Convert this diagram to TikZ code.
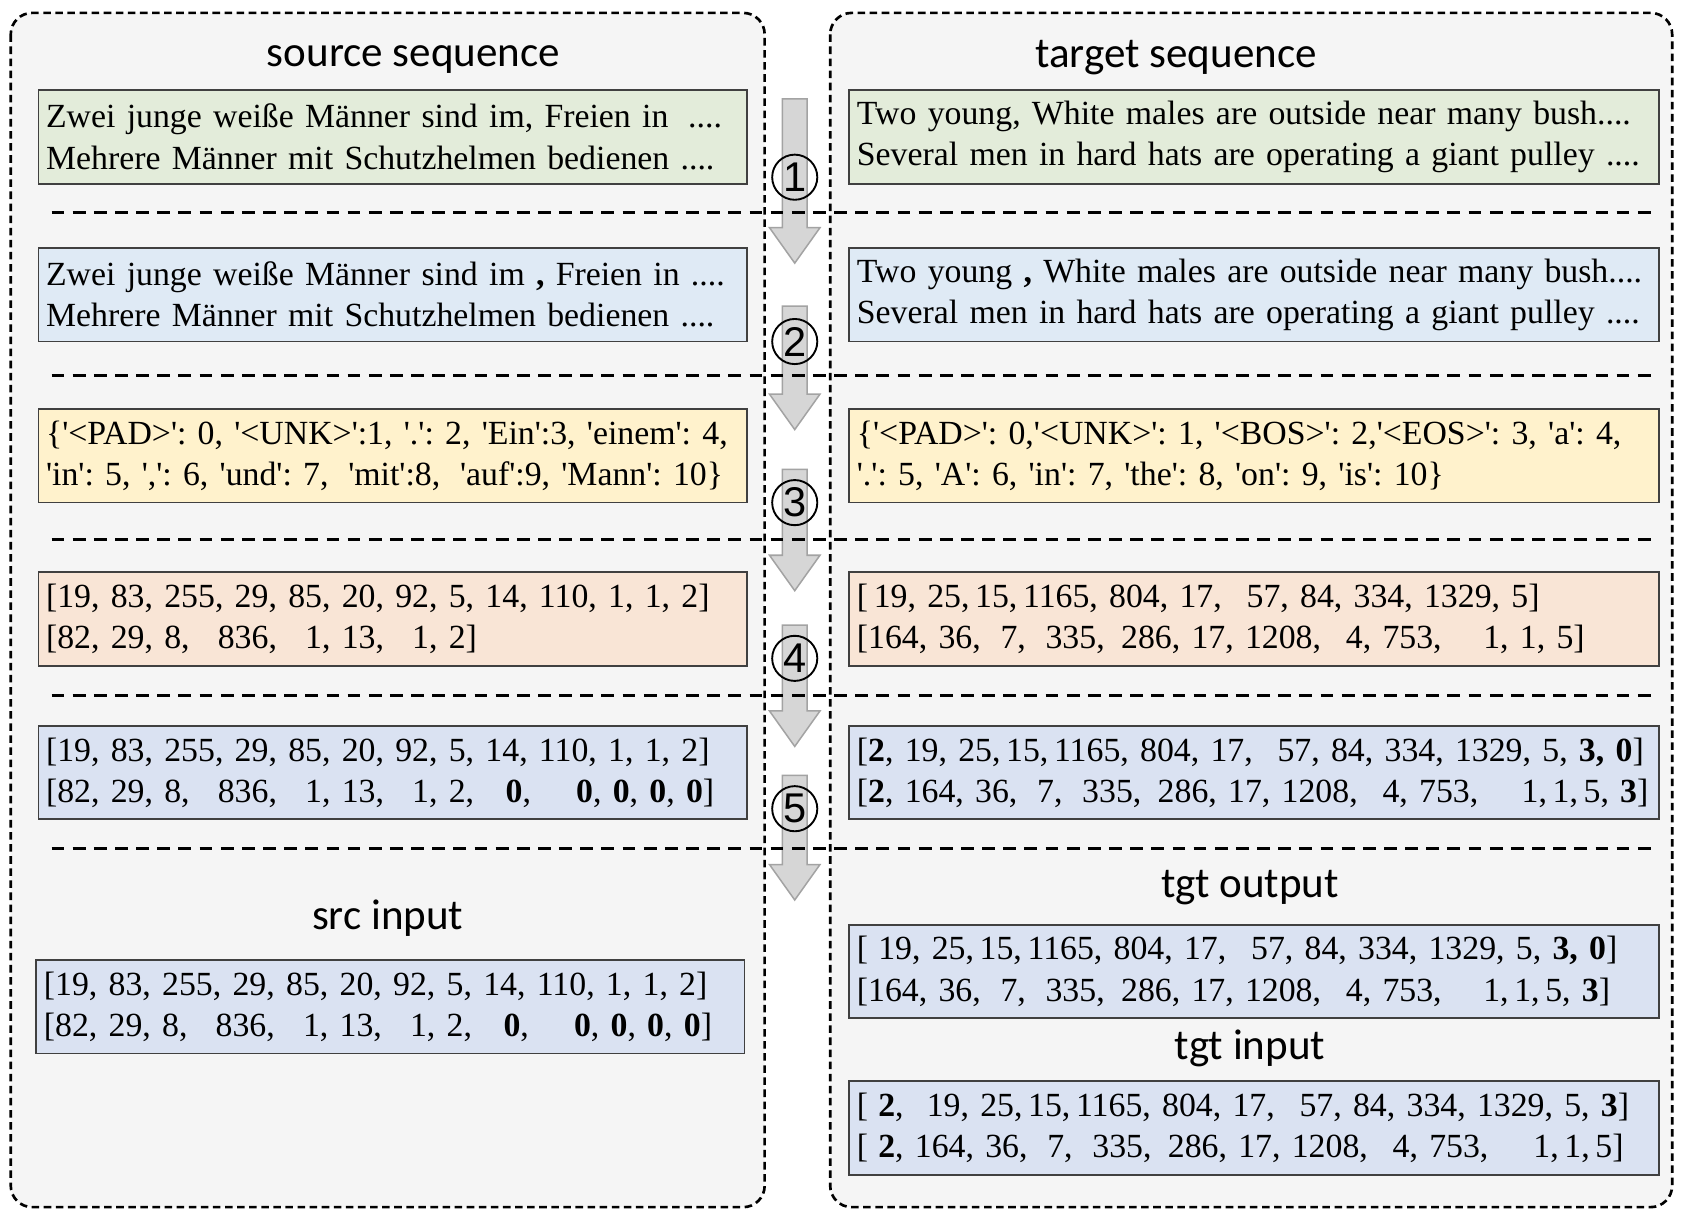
\documentclass[tikz,border=0pt]{standalone}
\usepackage{fontspec}
\setmainfont{Liberation Serif}[Ligatures=TeXOff]
\newfontfamily\titlefont{Carlito}
\newfontfamily\stepfont{Liberation Sans}
\frenchspacing
\newcommand{\tworows}[2]{\mbox{#1}\\\mbox{#2}}
\newcommand{\gapem}[1]{\hspace{#1em}}
\definecolor{cpanel}{HTML}{F5F5F5}
\definecolor{cgreen}{HTML}{E3ECDA}
\definecolor{cblue}{HTML}{DFEAF5}
\definecolor{cyellow}{HTML}{FFF2CC}
\definecolor{cpeach}{HTML}{F9E5D6}
\definecolor{clav}{HTML}{DAE2F2}
\definecolor{cedge}{HTML}{404040}
\definecolor{cgray}{HTML}{D6D6D6}
\definecolor{cgrayline}{HTML}{A3A3A3}

\begin{document}
\begin{tikzpicture}[x=0.01cm, y=-0.01cm,
  panel/.style={fill=cpanel, draw=black, line width=0.7pt,
    dash pattern=on 2pt off 1.2pt, rounded corners=0.2cm},
  sepline/.style={draw=black, line width=0.8pt, dash pattern=on 3.4pt off 2.2pt},
  seqbox/.style={draw=cedge, line width=0.5pt, anchor=north west, align=left,
    inner xsep=0.7mm, inner ysep=0pt, minimum height=0.87cm,
    font=\fontsize{8.95}{10.9}\selectfont},
  lbox/.style={seqbox, text width=6.45cm},
  rbox/.style={seqbox, text width=7.39cm},
  heading/.style={font=\titlefont\fontsize{11.4}{13}\selectfont},
  flow/.style={fill=cgray, draw=cgrayline, line width=0.4pt},
  stepnum/.style={circle, draw=black, line width=0.5pt, minimum size=0.42cm,
    inner sep=0pt, font=\stepfont\fontsize{11}{11}\selectfont}]
\useasboundingbox (0,0) rectangle (1568,1142);
\fill[white] (0,0) rectangle (1568,1142);
%% ------------------------------------------------------------------ panels
\draw[panel] (10,12) rectangle (712,1124);
\draw[panel] (773,12) rectangle (1557,1124);
% block arrows between the two panels
\foreach \top/\tip in {92/245,285/400,437/550,582/695,722/838}
  \draw[flow] (728.5,\top) -- (751.5,\top) -- (751.5,\tip-33) -- (763.5,\tip-33)
    -- (740,\tip) -- (716.5,\tip-33) -- (728.5,\tip-33) -- cycle;
\foreach \i/\y in {1/165,2/318,3/468,4/613,5/753}
  \node[stepnum] (s\i) at (740,\y) {\i};
% stage separators
\foreach \y in {198,350,502,648,790}
  \draw[sepline] (48,\y) -- (1540,\y);
%% ------------------------------------------------------------------ source
\node[heading] (srcseq) at (385,55) {source sequence};
\node[lbox, fill=cgreen] (src1) at (35,83)
  {\tworows{Zwei junge weiße Männer sind im, Freien in\gapem{0.25} ....}{Mehrere Männer mit Schutzhelmen bedienen ....}};
\node[lbox, fill=cblue] (src2) at (35,230)
  {\tworows{Zwei junge weiße Männer sind im \textbf{,} Freien in ....}{Mehrere Männer mit Schutzhelmen bedienen ....}};
\node[lbox, fill=cyellow] (src3) at (35,380)
  {\tworows{\{'<PAD>': 0, '<UNK>':1, '.': 2, 'Ein':3, 'einem': 4,}{'in': 5, ',': 6, 'und': 7,\gapem{0.25} 'mit':8,\gapem{0.25} 'auf':9, 'Mann': 10\}}};
\node[lbox, fill=cpeach] (src4) at (35,532)
  {\tworows{[19, 83, 255, 29, 85, 20, 92, 5, 14, 110, 1, 1, 2]}{[82, 29, 8,\gapem{0.5} 836,\gapem{0.5} 1, 13,\gapem{0.5} 1, 2]}};
\node[lbox, fill=clav] (src5) at (35,675)
  {\tworows{[19, 83, 255, 29, 85, 20, 92, 5, 14, 110, 1, 1, 2]}{[82, 29, 8,\gapem{0.5} 836,\gapem{0.5} 1, 13,\gapem{0.5} 1, 2,\gapem{0.6} \textbf{0},\gapem{1.0} \textbf{0}, \textbf{0}, \textbf{0}, \textbf{0}]}};
\node[heading] (srcin) at (361,855) {src input};
\node[lbox, fill=clav] (src6) at (33,893)
  {\tworows{[19, 83, 255, 29, 85, 20, 92, 5, 14, 110, 1, 1, 2]}{[82, 29, 8,\gapem{0.5} 836,\gapem{0.5} 1, 13,\gapem{0.5} 1, 2,\gapem{0.6} \textbf{0},\gapem{1.0} \textbf{0}, \textbf{0}, \textbf{0}, \textbf{0}]}};
%% ------------------------------------------------------------------ target
\node[heading] (tgtseq) at (1095,54) {target sequence};
\node[rbox, fill=cgreen] (tgt1) at (790,83)
  {\tworows{Two young, White males are outside near many bush....}{Several men in hard hats are operating a giant pulley ....}};
\node[rbox, fill=cblue] (tgt2) at (790,230)
  {\tworows{Two young \textbf{,} White males are outside near many bush....}{Several men in hard hats are operating a giant pulley ....}};
\node[rbox, fill=cyellow] (tgt3) at (790,380)
  {\tworows{\{'<PAD>': 0,'<UNK>': 1, '<BOS>': 2,'<EOS>': 3, 'a': 4,}{'.': 5, 'A': 6, 'in': 7, 'the': 8, 'on': 9, 'is': 10\}}};
\node[rbox, fill=cpeach] (tgt4) at (790,532)
  {\tworows{[\,19, 25,\,15,\,1165, 804, 17,\gapem{0.4} 57, 84, 334, 1329, 5]}{[164, 36,\gapem{0.25} 7,\gapem{0.25} 335,\gapem{0.15} 286, 17, 1208,\gapem{0.4} 4, 753,\gapem{0.9} 1, 1, 5]}};
\node[rbox, fill=clav] (tgt5) at (790,675)
  {\tworows{[\textbf{2}, 19, 25,\,15,\,1165, 804, 17,\gapem{0.4} 57, 84, 334, 1329, 5, \textbf{3, 0}]}{[\textbf{2}, 164, 36,\gapem{0.25} 7,\gapem{0.25} 335,\gapem{0.15} 286, 17, 1208,\gapem{0.4} 4, 753,\gapem{0.95} 1,\,1,\,5, \textbf{3}]}};
\node[heading] (tgtout) at (1164,826) {tgt output};
\node[rbox, fill=clav] (tgt6) at (790,860)
  {\tworows{[\gapem{0.3}19, 25,\,15,\,1165, 804, 17,\gapem{0.4} 57, 84, 334, 1329, 5, \textbf{3, 0}]}{[164, 36,\gapem{0.25} 7,\gapem{0.25} 335,\gapem{0.15} 286, 17, 1208,\gapem{0.4} 4, 753,\gapem{0.9} 1,\,1,\,5, \textbf{3}]}};
\node[heading] (tgtin) at (1164,976) {tgt input};
\node[rbox, fill=clav] (tgt7) at (790,1006)
  {\tworows{[\gapem{0.3}\textbf{2},\gapem{0.35} 19, 25,\,15,\,1165, 804, 17,\gapem{0.4} 57, 84, 334, 1329, 5, \textbf{3}]}{[\gapem{0.3}\textbf{2}, 164, 36,\gapem{0.25} 7,\gapem{0.25} 335,\gapem{0.15} 286, 17, 1208,\gapem{0.4} 4, 753,\gapem{1.0} 1,\,1,\,5]}};
\end{tikzpicture}
\end{document}
